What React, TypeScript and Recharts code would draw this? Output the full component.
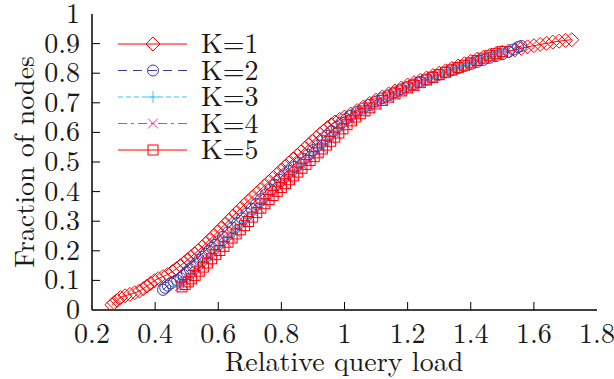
import React from 'react';
import { LineChart, Line, XAxis, YAxis } from 'recharts';

const xTicks = [0.2, 0.4, 0.6, 0.8, 1, 1.2, 1.4, 1.6, 1.8];
const yTicks = [0, 0.1, 0.2, 0.3, 0.4, 0.5, 0.6, 0.7, 0.8, 0.9, 1];

// K=1 (red, diamonds)
const k1: [number, number][] = [
  [0.263, 0.017], [0.27, 0.025], [0.28, 0.033], [0.29, 0.042], [0.305, 0.048], [0.32, 0.053],
  [0.335, 0.058], [0.35, 0.064], [0.362, 0.072], [0.374, 0.081], [0.386, 0.09], [0.398, 0.099],
  [0.41, 0.106], [0.425, 0.113], [0.44, 0.12], [0.455, 0.13], [0.468, 0.14], [0.48, 0.15],
  [0.492, 0.16], [0.503, 0.17], [0.514, 0.18], [0.525, 0.19], [0.536, 0.2], [0.548, 0.212],
  [0.56, 0.224], [0.572, 0.237], [0.585, 0.25], [0.597, 0.263], [0.609, 0.276], [0.621, 0.289],
  [0.633, 0.302], [0.645, 0.315], [0.657, 0.328], [0.669, 0.341], [0.681, 0.354], [0.694, 0.367],
  [0.707, 0.38], [0.72, 0.393], [0.733, 0.406], [0.746, 0.419], [0.759, 0.432], [0.772, 0.445],
  [0.785, 0.458], [0.798, 0.471], [0.811, 0.484], [0.824, 0.497], [0.837, 0.51], [0.85, 0.522],
  [0.862, 0.534], [0.874, 0.546], [0.886, 0.558], [0.898, 0.57], [0.91, 0.582], [0.922, 0.594],
  [0.934, 0.605], [0.946, 0.616], [0.958, 0.626], [0.97, 0.635], [0.985, 0.644], [1.0, 0.652],
  [1.02, 0.662], [1.04, 0.674], [1.06, 0.686], [1.08, 0.698], [1.1, 0.709], [1.12, 0.72],
  [1.14, 0.73], [1.16, 0.74], [1.18, 0.75], [1.2, 0.76], [1.22, 0.768], [1.24, 0.776],
  [1.26, 0.784], [1.28, 0.792], [1.3, 0.8], [1.32, 0.808], [1.34, 0.816], [1.36, 0.824],
  [1.38, 0.832], [1.4, 0.84], [1.42, 0.847], [1.44, 0.854], [1.46, 0.86], [1.48, 0.866],
  [1.5, 0.871], [1.52, 0.875], [1.54, 0.879], [1.56, 0.884], [1.58, 0.889], [1.6, 0.893],
  [1.62, 0.897], [1.64, 0.901], [1.66, 0.905], [1.68, 0.908], [1.7, 0.911], [1.72, 0.913],
];

// K=2 (blue, circles)
const k2: [number, number][] = [
  [0.425, 0.068], [0.432, 0.075], [0.44, 0.082], [0.45, 0.09], [0.46, 0.096], [0.47, 0.1],
  [0.48, 0.108], [0.49, 0.118], [0.5, 0.128], [0.51, 0.138], [0.52, 0.148], [0.53, 0.158],
  [0.54, 0.17], [0.55, 0.18], [0.56, 0.19], [0.57, 0.2], [0.58, 0.21], [0.59, 0.22],
  [0.6, 0.232], [0.615, 0.247], [0.63, 0.262], [0.645, 0.278], [0.66, 0.294], [0.675, 0.31],
  [0.69, 0.326], [0.705, 0.342], [0.72, 0.358], [0.735, 0.374], [0.75, 0.39], [0.765, 0.407],
  [0.78, 0.423], [0.795, 0.44], [0.81, 0.455], [0.825, 0.469], [0.84, 0.483], [0.855, 0.497],
  [0.87, 0.511], [0.885, 0.525], [0.9, 0.54], [0.915, 0.556], [0.93, 0.572], [0.945, 0.588],
  [0.96, 0.604], [0.975, 0.619], [0.99, 0.633], [1.005, 0.645], [1.02, 0.656], [1.04, 0.669],
  [1.06, 0.681], [1.08, 0.693], [1.1, 0.704], [1.12, 0.715], [1.14, 0.725], [1.16, 0.735],
  [1.18, 0.745], [1.2, 0.754], [1.22, 0.762], [1.24, 0.771], [1.26, 0.779], [1.28, 0.787],
  [1.3, 0.795], [1.32, 0.803], [1.34, 0.81], [1.36, 0.817], [1.38, 0.824], [1.4, 0.831],
  [1.42, 0.838], [1.44, 0.845], [1.46, 0.852], [1.48, 0.858], [1.5, 0.864], [1.52, 0.872],
  [1.535, 0.88], [1.55, 0.888], [1.56, 0.892],
];

// K=3 (cyan, plus)
const k3: [number, number][] = [
  [0.472, 0.078], [0.48, 0.085], [0.49, 0.095], [0.5, 0.106], [0.515, 0.12], [0.53, 0.136],
  [0.545, 0.152], [0.56, 0.168], [0.575, 0.183], [0.59, 0.199], [0.605, 0.215], [0.62, 0.232],
  [0.635, 0.248], [0.65, 0.264], [0.665, 0.28], [0.68, 0.296], [0.695, 0.312], [0.71, 0.329],
  [0.725, 0.346], [0.74, 0.362], [0.755, 0.378], [0.77, 0.394], [0.785, 0.41], [0.8, 0.426],
  [0.815, 0.442], [0.83, 0.457], [0.845, 0.471], [0.86, 0.486], [0.875, 0.5], [0.89, 0.515],
  [0.905, 0.53], [0.92, 0.545], [0.935, 0.56], [0.95, 0.575], [0.965, 0.59], [0.98, 0.606],
  [0.995, 0.622], [1.01, 0.636], [1.03, 0.65], [1.05, 0.664], [1.07, 0.677], [1.09, 0.69],
  [1.11, 0.702], [1.13, 0.713], [1.15, 0.724], [1.17, 0.735], [1.19, 0.745], [1.21, 0.755],
  [1.23, 0.764], [1.25, 0.773], [1.27, 0.782], [1.29, 0.79], [1.31, 0.798], [1.33, 0.806],
  [1.35, 0.814], [1.37, 0.822], [1.39, 0.83], [1.41, 0.838], [1.43, 0.846], [1.45, 0.853],
  [1.47, 0.86], [1.49, 0.867], [1.5, 0.872],
];

// K=4 (magenta, cross)
const k4: [number, number][] = [
  [0.478, 0.08], [0.488, 0.088], [0.498, 0.097], [0.51, 0.108], [0.522, 0.12], [0.536, 0.134],
  [0.55, 0.15], [0.565, 0.166], [0.58, 0.182], [0.595, 0.198], [0.61, 0.214], [0.625, 0.23],
  [0.64, 0.246], [0.655, 0.262], [0.67, 0.278], [0.685, 0.294], [0.7, 0.31], [0.715, 0.327],
  [0.73, 0.344], [0.748, 0.363], [0.763, 0.38], [0.778, 0.396], [0.793, 0.412], [0.808, 0.428],
  [0.823, 0.443], [0.838, 0.457], [0.853, 0.472], [0.868, 0.487], [0.883, 0.501], [0.898, 0.516],
  [0.913, 0.531], [0.928, 0.546], [0.943, 0.561], [0.958, 0.576], [0.973, 0.592], [0.988, 0.609],
  [1.003, 0.626], [1.02, 0.641], [1.04, 0.655], [1.06, 0.669], [1.08, 0.682], [1.1, 0.695],
  [1.12, 0.707], [1.14, 0.718], [1.16, 0.729], [1.18, 0.739], [1.2, 0.749], [1.22, 0.758],
  [1.24, 0.767], [1.26, 0.776], [1.28, 0.785], [1.3, 0.794], [1.32, 0.802], [1.34, 0.81],
  [1.36, 0.818], [1.38, 0.826], [1.4, 0.834], [1.42, 0.842], [1.44, 0.85], [1.46, 0.857],
  [1.48, 0.864], [1.5, 0.871],
];

// K=5 (red, squares)
const k5: [number, number][] = [
  [0.485, 0.078], [0.495, 0.086], [0.505, 0.095], [0.515, 0.105], [0.527, 0.117], [0.54, 0.131],
  [0.553, 0.145], [0.566, 0.159], [0.579, 0.173], [0.592, 0.187], [0.605, 0.201], [0.618, 0.215],
  [0.631, 0.229], [0.644, 0.243], [0.657, 0.257], [0.67, 0.271], [0.683, 0.285], [0.696, 0.299],
  [0.709, 0.314], [0.722, 0.329], [0.735, 0.344], [0.748, 0.359], [0.761, 0.373], [0.774, 0.387],
  [0.787, 0.401], [0.8, 0.414], [0.813, 0.427], [0.826, 0.44], [0.839, 0.453], [0.852, 0.466],
  [0.865, 0.479], [0.878, 0.492], [0.891, 0.505], [0.904, 0.518], [0.917, 0.531], [0.93, 0.544],
  [0.943, 0.557], [0.956, 0.57], [0.969, 0.584], [0.982, 0.598], [0.995, 0.612], [1.008, 0.626],
  [1.022, 0.639], [1.036, 0.652], [1.05, 0.663], [1.065, 0.673], [1.08, 0.683], [1.1, 0.696],
  [1.12, 0.708], [1.14, 0.719], [1.16, 0.73], [1.18, 0.74], [1.2, 0.75], [1.22, 0.759],
  [1.24, 0.768], [1.26, 0.777], [1.28, 0.786], [1.3, 0.795], [1.32, 0.803], [1.34, 0.811],
  [1.36, 0.819], [1.38, 0.827], [1.4, 0.835], [1.42, 0.843], [1.44, 0.851], [1.46, 0.859],
  [1.48, 0.866], [1.5, 0.873],
];

const FONT = 'Latin Modern Roman, Liberation Serif, serif';
const FONT_SIZE = 28;
const TEXT = '#1a1a1a';

type Kind = 'diamond' | 'circle' | 'plus' | 'cross' | 'square';

const series = [
  { name: 'K=1', data: k1, color: '#ff0000', dash: undefined, kind: 'diamond' as Kind },
  { name: 'K=2', data: k2, color: '#3a3aa6', dash: '9 6', kind: 'circle' as Kind },
  { name: 'K=3', data: k3, color: '#3cc4f4', dash: '5 3', kind: 'plus' as Kind },
  { name: 'K=4', data: k4, color: '#ff2e9e', dash: '9 4 3 4', kind: 'cross' as Kind },
  { name: 'K=5', data: k5, color: '#ff0000', dash: undefined, kind: 'square' as Kind },
];

const toPoints = (arr: [number, number][]) => arr.map(([x, y]) => ({ x, y }));

function marker(kind: Kind, cx: number, cy: number, color: string, key?: string) {
  const common = { fill: 'none', stroke: color, strokeWidth: 1 };
  switch (kind) {
    case 'diamond':
      return (
        <polygon key={key} {...common}
          points={`${cx},${cy - 7} ${cx + 7},${cy} ${cx},${cy + 7} ${cx - 7},${cy}`} />
      );
    case 'circle':
      return <circle key={key} {...common} cx={cx} cy={cy} r={5.5} />;
    case 'plus':
      return (
        <path key={key} {...common} d={`M${cx - 6},${cy}H${cx + 6}M${cx},${cy - 6}V${cy + 6}`} />
      );
    case 'cross':
      return (
        <path key={key} {...common}
          d={`M${cx - 5},${cy - 5}L${cx + 5},${cy + 5}M${cx - 5},${cy + 5}L${cx + 5},${cy - 5}`} />
      );
    default:
      return <rect key={key} {...common} x={cx - 5} y={cy - 5} width={10} height={10} />;
  }
}

const fmt = (v: number) => String(v);
const isEnd = (v: number, arr: number[]) => v === arr[0] || v === arr[arr.length - 1];

const Label = (props: any) => (
  <text fontFamily={FONT} fontSize={FONT_SIZE} fill={TEXT} {...props} />
);

const BottomTick = (props: any) => {
  const { x, y, payload } = props;
  return (
    <g>
      {!isEnd(payload.value, xTicks) && <line x1={x} x2={x} y1={y} y2={y - 8} stroke="#000" />}
      <Label x={x} y={y + 33} textAnchor="middle">{fmt(payload.value)}</Label>
    </g>
  );
};

const TopTick = (props: any) => {
  const { x, y, payload } = props;
  if (isEnd(payload.value, xTicks)) return <g />;
  return <line x1={x} x2={x} y1={y} y2={y + 8} stroke="#000" />;
};

const LeftTick = (props: any) => {
  const { x, y, payload } = props;
  return (
    <g>
      {!isEnd(payload.value, yTicks) && <line x1={x} x2={x + 8} y1={y} y2={y} stroke="#000" />}
      <Label x={x - 12} y={y + 9} textAnchor="end">{fmt(payload.value)}</Label>
    </g>
  );
};

const RightTick = (props: any) => {
  const { x, y, payload } = props;
  if (isEnd(payload.value, yTicks)) return <g />;
  return <line x1={x} x2={x - 8} y1={y} y2={y} stroke="#000" />;
};

const axisLine = { stroke: '#000', strokeWidth: 1.5 };

const Overlay = () => (
  <svg width={614} height={379} style={{ position: 'absolute', left: 0, top: 0, pointerEvents: 'none' }}>
    {series.map((s, i) => {
      const y = 44 + i * 26.5;
      return (
        <g key={s.name}>
          <line x1={118} x2={187} y1={y} y2={y} stroke={s.color} strokeWidth={1} strokeDasharray={s.dash} />
          {marker(s.kind, 153, y, s.color)}
          <Label x={201} y={y + 9}>{s.name}</Label>
        </g>
      );
    })}
    <Label x={344} y={371} textAnchor="middle">Relative query load</Label>
    <Label transform="translate(34,162) rotate(-90)" textAnchor="middle">Fraction of nodes</Label>
  </svg>
);

export default function App() {
  return (
    <div style={{ position: 'relative', width: 614, height: 379, background: '#fff', fontFamily: FONT }}>
      <style>{'body{margin:0}'}</style>
      <LineChart width={614} height={379} margin={{ top: 14, right: 17, bottom: 0, left: 0 }}>
        <XAxis dataKey="x" type="number" domain={[0.2, 1.8]} ticks={xTicks} interval={0}
          allowDataOverflow height={69} tickSize={0} tickMargin={0} tickLine={false}
          axisLine={axisLine} tick={<BottomTick />} />
        <XAxis xAxisId="top" orientation="top" dataKey="x" type="number" domain={[0.2, 1.8]}
          ticks={xTicks} interval={0} allowDataOverflow height={0} tickSize={0} tickMargin={0}
          tickLine={false} axisLine={axisLine} tick={<TopTick />} />
        <YAxis type="number" domain={[0, 1]} ticks={yTicks} interval={0} allowDataOverflow
          width={92} tickSize={0} tickMargin={0} tickLine={false} axisLine={axisLine}
          tick={<LeftTick />} />
        <YAxis yAxisId="right" orientation="right" type="number" domain={[0, 1]} ticks={yTicks}
          interval={0} allowDataOverflow width={0} tickSize={0} tickMargin={0} tickLine={false}
          axisLine={axisLine} tick={<RightTick />} />
        {series.map((s) => (
          <Line
            key={s.name}
            data={toPoints(s.data)}
            dataKey="y"
            type="linear"
            stroke={s.color}
            strokeWidth={1}
            strokeDasharray={s.dash}
            dot={(p: any) => marker(s.kind, p.cx, p.cy, s.color, `${s.name}-${p.index}`)}
            activeDot={false}
            isAnimationActive={false}
          />
        ))}
      </LineChart>
      <Overlay />
    </div>
  );
}
